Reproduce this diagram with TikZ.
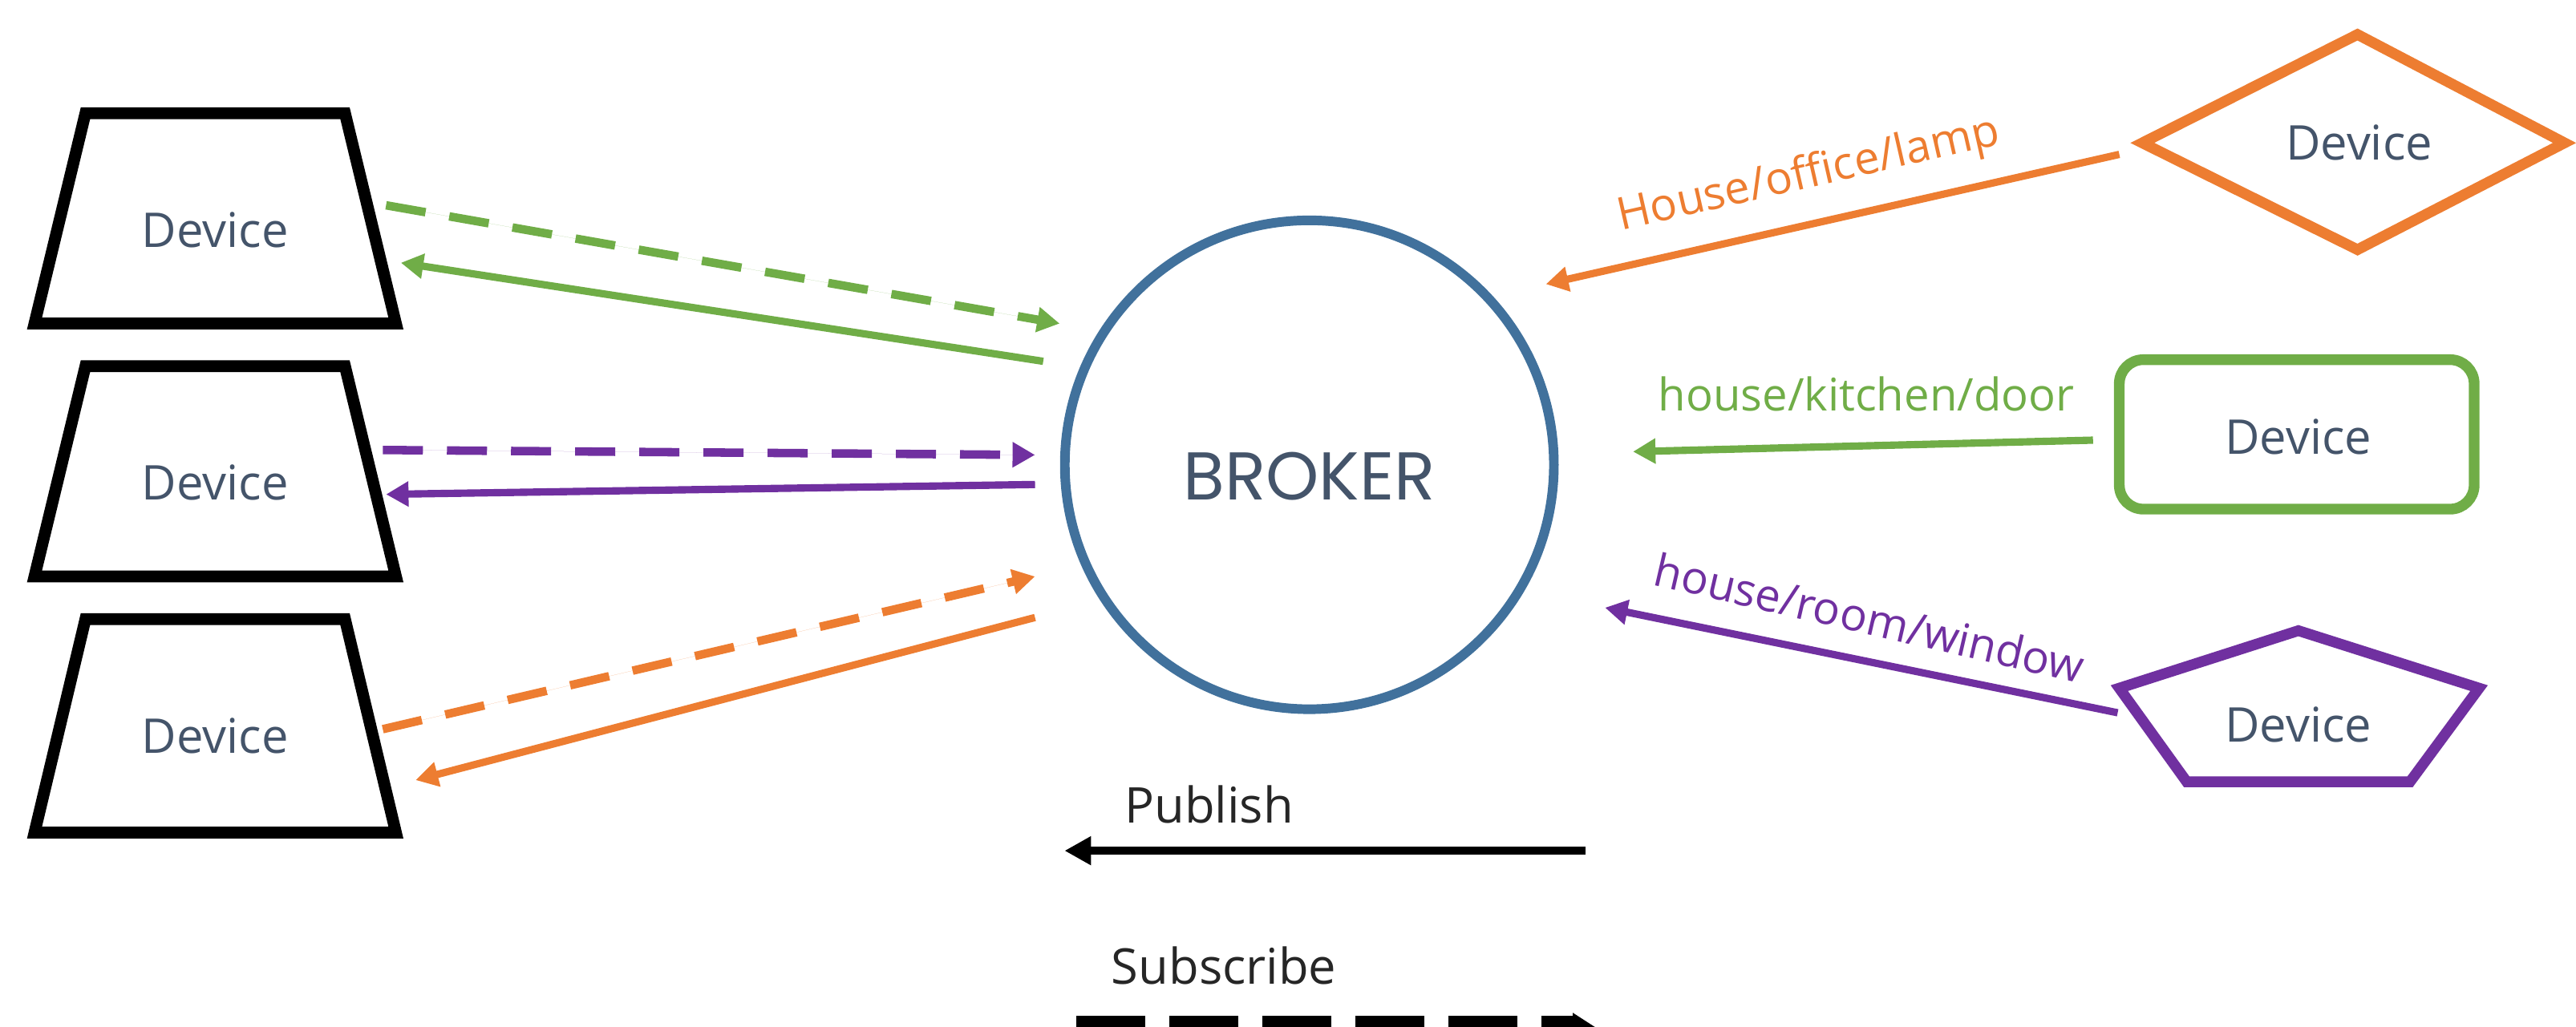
\documentclass[tikz,border=0pt]{standalone}
\usepackage{fontspec}
\setmainfont{Open Sans}
\newfontfamily\brokerfont{Poppins}
\usetikzlibrary{arrows.meta,calc}
\definecolor{cgreen}{HTML}{70AD47}
\definecolor{corange}{HTML}{ED7D31}
\definecolor{cpurple}{HTML}{7030A0}
\definecolor{cblue}{HTML}{41719C}
\definecolor{ctext}{HTML}{44546A}
\begin{document}
\begin{tikzpicture}[x=0.020485cm,y=-0.020485cm,
  devtext/.style={text=ctext,font=\fontsize{17}{20}\selectfont,inner sep=0pt},
  lbl/.style={font=\fontsize{16}{19}\selectfont,inner sep=0pt},
  legtext/.style={text=black!85,font=\fontsize{17.5}{21}\selectfont,inner sep=0pt},
  conn/.style={line width=2.6pt,-{Triangle[length=0.28cm,width=0.30cm]}},
  subconn/.style={conn,line width=3pt,dash pattern=on 0.5cm off 0.3cm},
  shp/.style={line width=4.2pt,line join=miter},
  thinshp/.style={line width=3.8pt,line join=miter}
]
\useasboundingbox (0,0) rectangle (1568,625);
\clip (0,0) rectangle (1568,625);

% left devices
\draw[shp] (52,69) -- (210,69) -- (241,197) -- (21,197) -- cycle;
\node[devtext] (d1) at (131,140) {Device};
\draw[shp] (52,223) -- (210,223) -- (241,351) -- (21,351) -- cycle;
\node[devtext] (d2) at (131,294) {Device};
\draw[shp] (52,377) -- (210,377) -- (241,507) -- (21,507) -- cycle;
\node[devtext] (d3) at (131,448) {Device};

% broker
\node[circle,draw=cblue,line width=3.4pt,minimum size=6.10cm,inner sep=0pt] (broker) at (797,283) {};
\node[text=ctext,font=\brokerfont\fontsize{24}{28}\selectfont,inner sep=0pt] (brokertxt) at (797,290) {BROKER};

% right devices
\draw[thinshp,draw=corange] (1304,87) -- (1435,21) -- (1561,87) -- (1435,152) -- cycle;
\node[devtext] (r1) at (1436,87) {Device};
\draw[thinshp,draw=cgreen,rounded corners=0.3cm] (1290,219) rectangle (1506,310);
\node[devtext] (r2) at (1399,266) {Device};
\draw[thinshp,draw=cpurple] (1399,384) -- (1509,419) -- (1467,476) -- (1331,476) -- (1290,419) -- cycle;
\node[devtext] (r3) at (1399,441) {Device};

% endpoints
\coordinate (gds) at (235,125); \coordinate (gde) at (645,197);
\coordinate (gss) at (635,220); \coordinate (gse) at (244,160);
\coordinate (pds) at (233,274); \coordinate (pde) at (630,277);
\coordinate (pss) at (630,295); \coordinate (pse) at (235,301);
\coordinate (ods) at (233,444); \coordinate (ode) at (630,351);
\coordinate (oss) at (630,376); \coordinate (ose) at (253,475);
\coordinate (ros) at (1290,94);  \coordinate (roe) at (941,173);
\coordinate (rgs) at (1274,268); \coordinate (rge) at (994,275);
\coordinate (rps) at (1289,434); \coordinate (rpe) at (977,370);

% left connectors
\draw[subconn,draw=cgreen,fill=cgreen] (gds) -- (gde);
\draw[conn,draw=cgreen,fill=cgreen] (gss) -- (gse);
\draw[subconn,draw=cpurple,fill=cpurple] (pds) -- (pde);
\draw[conn,draw=cpurple,fill=cpurple] (pss) -- (pse);
\draw[subconn,draw=corange,fill=corange] (ods) -- (ode);
\draw[conn,draw=corange,fill=corange] (oss) -- (ose);

% right connectors
\draw[conn,draw=corange,fill=corange] (ros) -- (roe);
\draw[conn,draw=cgreen,fill=cgreen] (rgs) -- (rge);
\draw[conn,draw=cpurple,fill=cpurple] (rps) -- (rpe);

\node[lbl,text=corange,rotate=12.8] (l1) at (1101,107) {House/office/lamp};
\node[lbl,text=cgreen] (l2) at (1136,240) {house/kitchen/door};
\node[lbl,text=cpurple,rotate=-13] (l3) at (1138,376) {house/room/window};

% legend
\node[legtext] (pub) at (736,490) {Publish};
\coordinate (pubs) at (965,518); \coordinate (pube) at (648,518);
\draw[line width=2.9pt,-{Triangle[length=0.33cm,width=0.34cm]}] (pubs) -- (pube);
\node[legtext] (sub) at (745,588) {Subscribe};
\coordinate (subs) at (655,626); \coordinate (sube) at (972,626);
\draw[line width=0.3cm,dash pattern=on 0.86cm off 0.30cm,-{Triangle[length=0.3cm,width=0.36cm]}] (subs) -- (sube);
\end{tikzpicture}
\end{document}
